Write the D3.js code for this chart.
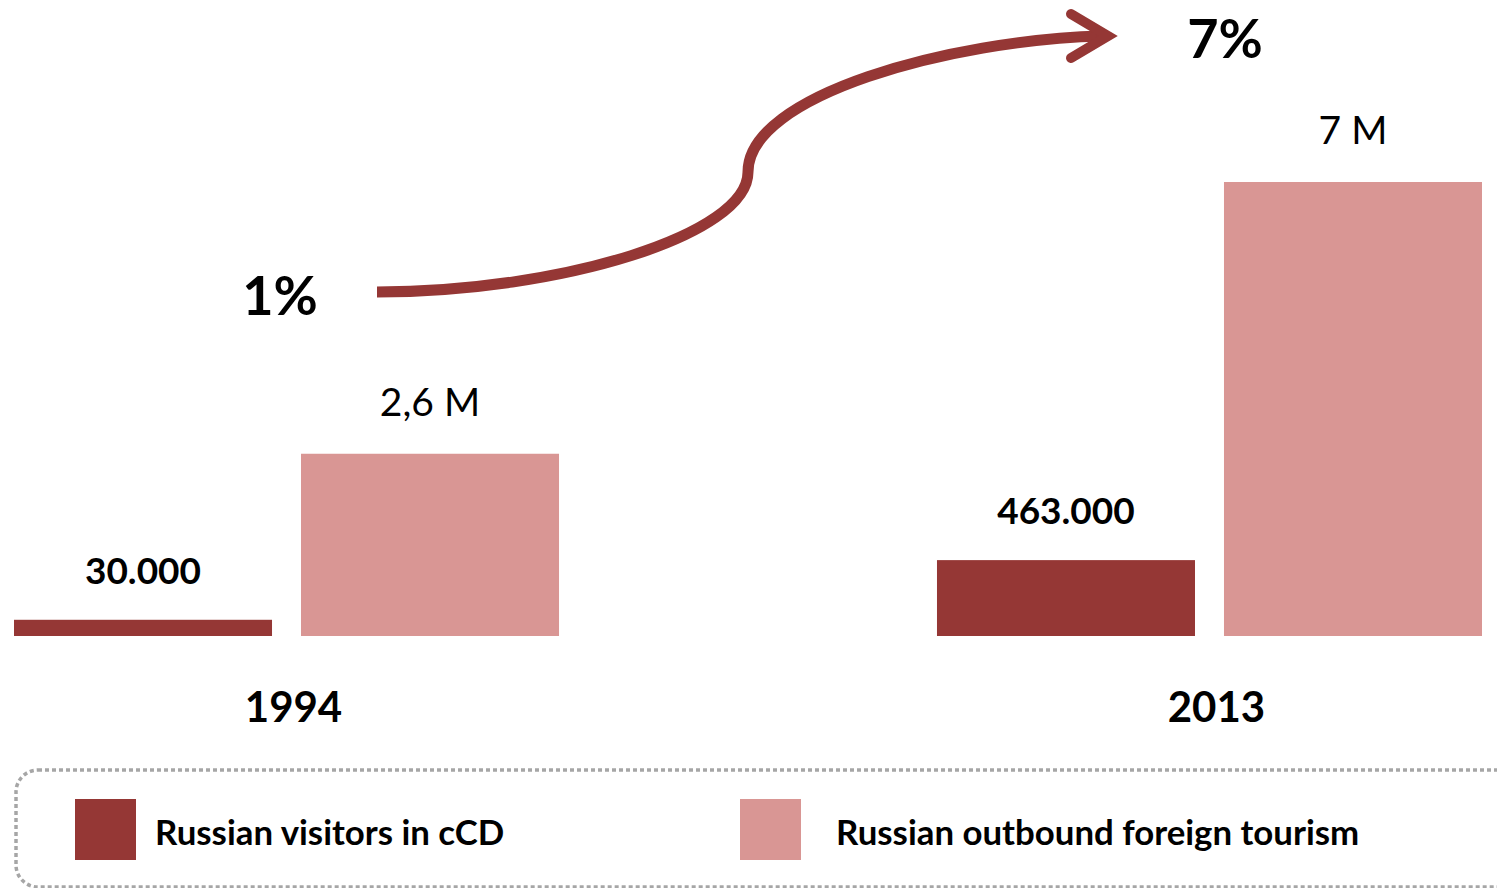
<!DOCTYPE html>
<html>
<head>
<meta charset="utf-8">
<script src="https://d3js.org/d3.v7.min.js"></script>
<style>
  body { margin: 0; background: #fff; }
  text { font-family: Lato, "Open Sans", sans-serif; fill: #000; }
</style>
</head>
<body>
<div id="chart"></div>
<script>
var svgWidth = 1497;
var svgHeight = 888;

// data
var years = ["1994", "2013"];
var seriesKeys = ["visitors", "outbound"];
var seriesNames = ["Russian visitors in cCD", "Russian outbound foreign tourism"];
// bar heights as drawn (picture units, top of the 2013 outbound bar = 7)
var visitorsBar = [0.25, 1.17];
var outboundBar = [2.81, 7.0];
var visitorsLabels = ["30.000", "463.000"];
var outboundLabels = ["2,6 M", "7 M"];
var shareLabels = ["1%", "7%"];

var colors = { visitors: "#953735", outbound: "#D99694" };

var svg = d3.select("#chart").append("svg")
    .attr("width", svgWidth)
    .attr("height", svgHeight);

var data = years.map(function(y, i) {
    return {
        year: y,
        values: [
            { key: "visitors", value: visitorsBar[i], label: visitorsLabels[i] },
            { key: "outbound", value: outboundBar[i], label: outboundLabels[i] }
        ]
    };
});

var x0 = d3.scaleBand()
    .domain(years)
    .range([14, 1482])
    .paddingInner(0.4095)
    .paddingOuter(0);

var x1 = d3.scaleBand()
    .domain(seriesKeys)
    .range([0, x0.bandwidth()])
    .paddingInner(0.101)
    .paddingOuter(0);

var y = d3.scaleLinear()
    .domain([0, 7])
    .range([636, 182]);

var groups = svg.selectAll(".year")
    .data(data)
    .enter()
    .append("g")
    .attr("class", "year")
    .attr("transform", d => `translate(${x0(d.year)}, 0)`);

groups.selectAll("rect")
    .data(d => d.values)
    .enter()
    .append("rect")
    .attr("x", d => x1(d.key))
    .attr("y", d => y(d.value))
    .attr("width", x1.bandwidth())
    .attr("height", d => y(0) - y(d.value))
    .attr("fill", d => colors[d.key]);

groups.selectAll(".val")
    .data(d => d.values)
    .enter()
    .append("text")
    .attr("class", "val")
    .attr("x", d => x1(d.key) + x1.bandwidth() / 2)
    .attr("y", d => d.key === "visitors" ? y(d.value) - 36 : y(d.value) - 38)
    .attr("text-anchor", "middle")
    .attr("font-size", d => d.key === "visitors" ? "37px" : "39px")
    .attr("font-weight", d => d.key === "visitors" ? "bold" : "normal")
    .text(d => d.label);

// year labels
groups.append("text")
    .attr("x", x0.bandwidth() / 2 + 7)
    .attr("y", 722)
    .attr("text-anchor", "middle")
    .attr("font-size", "42px")
    .attr("font-weight", "bold")
    .text(d => d.year);

// growth arrow
var arrowColor = "#953735";
svg.append("path")
    .attr("d", "M377,292 C560,292 748,235 748,172 C748,95 950,40 1102,36")
    .attr("fill", "none")
    .attr("stroke", arrowColor)
    .attr("stroke-width", 11);

svg.append("path")
    .attr("d", "M1071,14 L1108,36 L1071,58")
    .attr("fill", "none")
    .attr("stroke", arrowColor)
    .attr("stroke-width", 10)
    .attr("stroke-linecap", "round");

svg.append("text")
    .attr("x", 280).attr("y", 315)
    .attr("text-anchor", "middle")
    .attr("font-size", "54px")
    .attr("font-weight", "bold")
    .text(shareLabels[0]);

svg.append("text")
    .attr("x", 1225).attr("y", 58)
    .attr("text-anchor", "middle")
    .attr("font-size", "54px")
    .attr("font-weight", "bold")
    .text(shareLabels[1]);

// legend box
svg.append("rect")
    .attr("x", 16).attr("y", 770)
    .attr("width", 1520).attr("height", 117)
    .attr("rx", 22)
    .attr("fill", "none")
    .attr("stroke", "#A6A6A6")
    .attr("stroke-width", 3.5)
    .attr("stroke-dasharray", "4 3");

var legendX = [75, 740];
var legend = svg.selectAll(".legend")
    .data(seriesKeys)
    .enter()
    .append("g")
    .attr("class", "legend")
    .attr("transform", (d, i) => `translate(${legendX[i]}, 799)`);

legend.append("rect")
    .attr("width", 61).attr("height", 61)
    .attr("fill", d => colors[d]);

legend.append("text")
    .attr("x", (d, i) => i === 0 ? 80 : 96)
    .attr("y", 46)
    .attr("font-size", "34.8px")
    .attr("font-weight", "bold")
    .text((d, i) => seriesNames[i]);
</script>
</body>
</html>
